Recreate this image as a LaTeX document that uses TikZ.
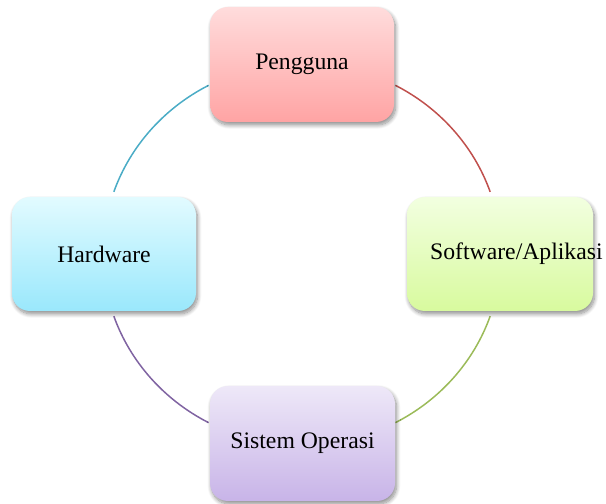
\documentclass[tikz,border=0pt]{standalone}
\usepackage{fontspec}
\setmainfont{Liberation Serif}
\usetikzlibrary{shadows.blur,calc}

\definecolor{pgTop}{RGB}{255,220,220}
\definecolor{pgBot}{RGB}{255,164,164}
\definecolor{swTop}{RGB}{242,255,224}
\definecolor{swBot}{RGB}{216,250,158}
\definecolor{hwTop}{RGB}{226,251,255}
\definecolor{hwBot}{RGB}{154,232,252}
\definecolor{soTop}{RGB}{238,232,248}
\definecolor{soBot}{RGB}{200,180,232}
\definecolor{lnRed}{RGB}{192,80,77}
\definecolor{lnGreen}{RGB}{155,187,89}
\definecolor{lnPurple}{RGB}{128,100,162}
\definecolor{lnTeal}{RGB}{75,172,198}

\tikzset{
  stage/.style={rounded corners=18pt, minimum width=185pt, minimum height=115pt,
    inner sep=0pt,
    blur shadow={shadow xshift=1.5pt, shadow yshift=-3pt, shadow blur radius=4pt,
      shadow blur steps=10, shadow opacity=45}},
  label/.style={font=\fontsize{23.7}{28}\selectfont, text=black},
  ring/.style={line width=1.5pt}
}

\begin{document}
\begin{tikzpicture}[x=1pt,y=1pt]
  \useasboundingbox (0,0) rectangle (606,504);
  \coordinate (c) at (302,250);

  % connecting ring, one arc per step of the cycle
  \draw[ring,lnRed]    ($(c)+(62:199 and 191)$)  arc[start angle=62,  end angle=19,  x radius=199, y radius=191];
  \draw[ring,lnGreen]  ($(c)+(-19:199 and 191)$) arc[start angle=-19, end angle=-62, x radius=199, y radius=191];
  \draw[ring,lnPurple] ($(c)+(242:199 and 191)$) arc[start angle=242, end angle=199, x radius=199, y radius=191];
  \draw[ring,lnTeal]   ($(c)+(161:199 and 191)$) arc[start angle=161, end angle=118, x radius=199, y radius=191];

  % the four stages
  \node[stage, top color=pgTop, bottom color=pgBot, minimum width=184pt] (pg) at (302,439.5) {};
  \node[stage, top color=swTop, bottom color=swBot, minimum width=186pt, minimum height=114pt] (sw) at (500,250) {};
  \node[stage, top color=hwTop, bottom color=hwBot, minimum width=184pt, minimum height=114pt] (hw) at (104,250) {};
  \node[stage, top color=soTop, bottom color=soBot] (so) at (302.5,60.5) {};

  \node[label] (pgt) at (pg.center) {Pengguna};
  \node[label, anchor=west, inner sep=0pt] (swt) at ($(sw.center)+(-70,0)$) {Software/Aplikasi};
  \node[label] (hwt) at (hw.center) {Hardware};
  \node[label] (sot) at (so.center) {Sistem Operasi};
\end{tikzpicture}
\end{document}
